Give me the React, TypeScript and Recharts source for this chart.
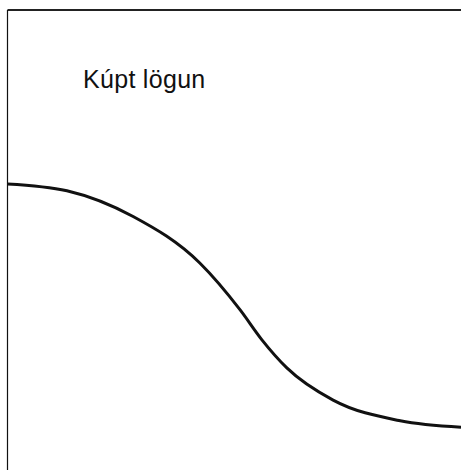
import { LineChart, Line, XAxis, YAxis } from 'recharts';

// curve: x 0..100 across, y 0..100 up
const xs = [0, 13.1, 27.7, 42.4, 51.3, 56.1, 61.6, 71.8, 86.6, 100];
const ys = [62.2, 60.7, 55.1, 45.0, 34.8, 28.3, 22.2, 15.2, 10.7, 9.3];
const title = 'Kúpt lögun';

const data = xs.map((x, i) => ({ x, y: ys[i] }));

export default function App() {
  return (
    <div style={{ position: 'fixed', left: 0, top: 0, width: 461, height: 470, overflow: 'hidden', background: '#fff' }}>
      <LineChart width={470} height={470} data={data} margin={{ top: 9, right: 9, bottom: 0, left: 6.5 }}>
        <XAxis dataKey="x" type="number" domain={[0, 100]} orientation="top" height={1} tick={false}
          axisLine={{ stroke: '#222', strokeWidth: 2 }} tickLine={false} />
        <YAxis type="number" domain={[0, 100]} width={1} tick={false}
          axisLine={{ stroke: '#111', strokeWidth: 1.2 }} tickLine={false} />
        <Line type="monotone" dataKey="y" stroke="#111" strokeWidth={3} dot={false} isAnimationActive={false} />
      </LineChart>
      <svg width={461} height={470} style={{ position: 'absolute', left: 0, top: 0, pointerEvents: 'none' }}>
        <text x={83} y={88} fontFamily="Liberation Sans, Arial, sans-serif" fontSize={25} letterSpacing={0.3} fill="#111">{title}</text>
      </svg>
    </div>
  );
}
